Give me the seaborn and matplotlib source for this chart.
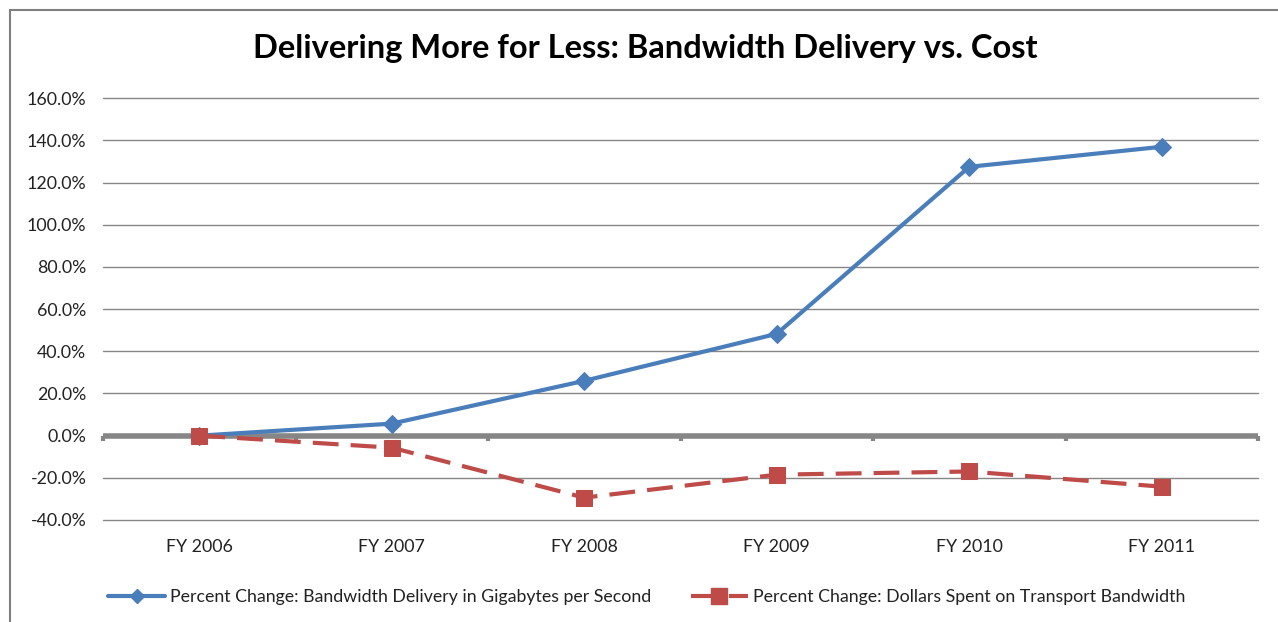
import pandas as pd
import numpy as np
import matplotlib.pyplot as plt
import seaborn as sns
from matplotlib.lines import Line2D
from matplotlib.ticker import FuncFormatter

years = ["FY 2006", "FY 2007", "FY 2008", "FY 2009", "FY 2010", "FY 2011"]
bandwidth = [0.0, 5.7, 26.0, 48.3, 127.5, 137.0]
dollars = [0.0, -5.7, -29.4, -18.5, -17.0, -24.2]
bw_label = "Percent Change: Bandwidth Delivery in Gigabytes per Second"
cost_label = "Percent Change: Dollars Spent on Transport Bandwidth"

df = pd.DataFrame({"pos": range(len(years)), "bw": bandwidth, "cost": dollars})

sns.set_style("white")
plt.rcParams["font.family"] = ["Lato", "DejaVu Sans"]

fig = plt.figure(figsize=(12.78, 6.22), dpi=100)
ax = fig.add_axes([0.0806, 0.164, 0.9038, 0.678])

blue = "#4A7EBB"
red = "#BE4B48"
grey = "#868686"
dash = (0, (6.2, 2.9))

for v in range(-40, 161, 20):
    if v != 0:
        ax.axhline(v, color=grey, lw=1, zorder=0, clip_on=False)

ax.axhline(0, color=grey, lw=4, zorder=1)
for b in np.arange(-0.5, 6, 1):
    ax.plot([b, b], [0, -2.4], color=grey, lw=3, solid_capstyle="butt", zorder=1,
            clip_on=False)

sns.lineplot(data=df, x="pos", y="bw", ax=ax, color=blue, lw=3, marker="D",
             markersize=9, markeredgecolor=blue, zorder=3)
sns.lineplot(data=df, x="pos", y="cost", ax=ax, color=red, lw=3, marker="s",
             markersize=12, markeredgecolor=red, zorder=3)
ax.lines[-1].set_linestyle(dash)

ax.set_xlim(-0.5, 5.5)
ax.set_ylim(-40, 160)
ax.set_yticks(range(-40, 161, 20))
ax.yaxis.set_major_formatter(FuncFormatter(lambda v, p: f"{v:.1f}%"))
ax.set_xticks(range(len(years)))
ax.set_xticklabels(years)
ax.tick_params(axis="both", length=0, labelsize=12.8, colors="#222222")
ax.tick_params(axis="y", pad=12)
ax.tick_params(axis="x", pad=14)
ax.set_xlabel("")
ax.set_ylabel("")
for s in ax.spines.values():
    s.set_visible(False)

fig.text(0.505, 0.922, "Delivering More for Less: Bandwidth Delivery vs. Cost",
         ha="center", va="center", fontsize=23.5, fontweight="bold", color="black")

handles = [
    Line2D([], [], color=blue, lw=3, marker="D", markersize=7, markeredgecolor=blue),
    Line2D([], [], color=red, lw=3, marker="s", markersize=11, markeredgecolor=red,
           linestyle=dash),
]
fig.legend(handles, [bw_label, cost_label], loc="center", bbox_to_anchor=(0.506, 0.04),
           ncol=2, frameon=False, fontsize=12.8, handlelength=3.2, handletextpad=0.3,
           columnspacing=2.2, labelcolor="#222222")

fig.add_artist(Line2D([10 / 1278, 10 / 1278], [0, 1 - 10 / 622], color="#7f7f7f", lw=1.5,
                      transform=fig.transFigure))
fig.add_artist(Line2D([10 / 1278, 1], [1 - 10 / 622, 1 - 10 / 622], color="#7f7f7f", lw=1.5,
                      transform=fig.transFigure))

fig.savefig("out.png", dpi=100)
